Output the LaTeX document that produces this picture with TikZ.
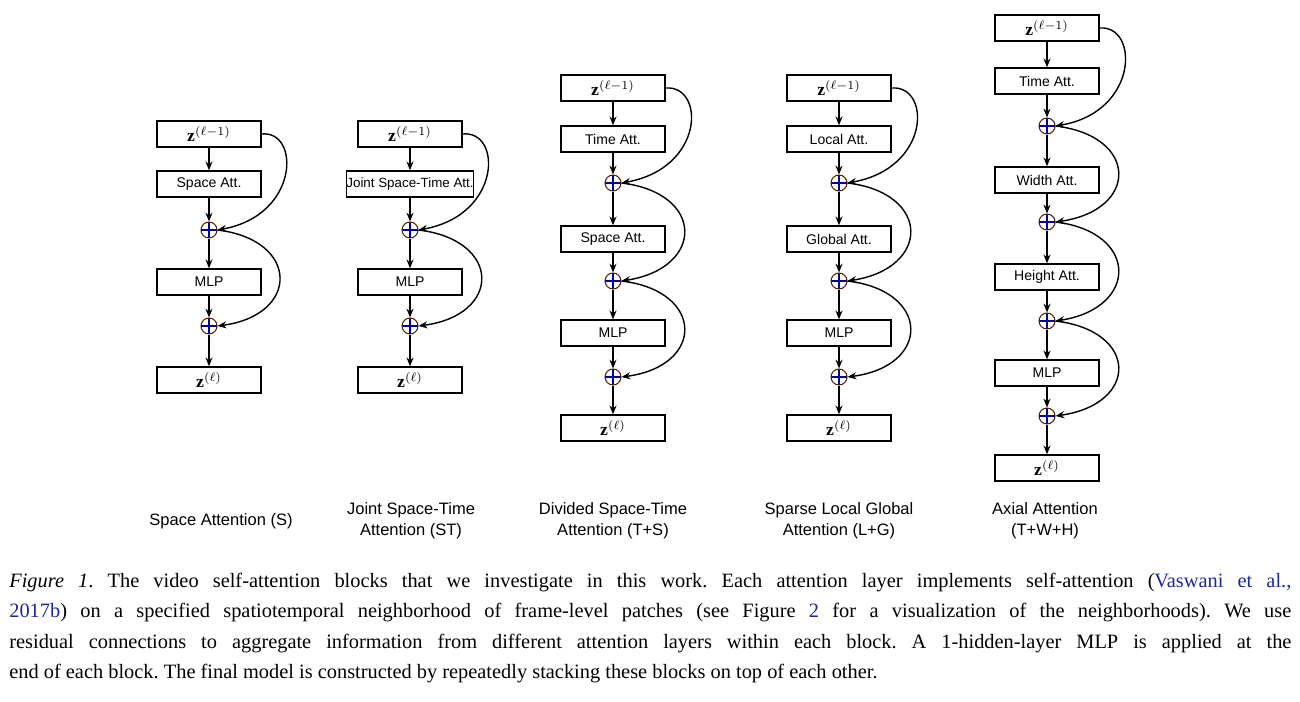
\documentclass[tikz,border=0pt]{standalone}
\usepackage{fontspec}
\setmainfont{Liberation Serif}
\setsansfont{Liberation Sans}
\usetikzlibrary{arrows.meta}
\definecolor{citeblue}{RGB}{30,40,150}
\begin{document}
\frenchspacing
\begin{tikzpicture}[x=0.02cm,y=-0.02cm,
  blk/.style={draw,thick,minimum width=104*0.02cm,minimum height=26*0.02cm,inner sep=0pt,font=\sffamily\fontsize{8}{9}\selectfont},
  pl/.style={circle,draw=black!70!orange,semithick,minimum size=16*0.02cm,inner sep=0pt,
     path picture={\draw[blue!60!black,semithick] (path picture bounding box.north)--(path picture bounding box.south) (path picture bounding box.west)--(path picture bounding box.east);}},
  ar/.style={-{Stealth[length=5pt,width=4pt]},thick},
  lab/.style={font=\sffamily\fontsize{9.4}{11.8}\selectfont,align=center}]
\useasboundingbox (0,0) rectangle (1300,702);
\newcommand{\zin}{\fontsize{10}{11}\selectfont$\mathbf{z}^{(\ell-1)}$}
\newcommand{\zout}{\fontsize{10}{11}\selectfont$\mathbf{z}^{(\ell)}$}
% col1
\node[blk] (a0) at (209,134) {\zin};
\node[blk] (a1) at (209,184) {Space Att.};
\node[pl] (ap1) at (209,230) {};
\node[blk] (a2) at (209,282) {MLP};
\node[pl] (ap2) at (209,326) {};
\node[blk] (a3) at (209,380) {\zout};
\draw[ar] (a0)--(a1); \draw[ar] (a1)--(ap1); \draw[ar] (ap1)--(a2); \draw[ar] (a2)--(ap2); \draw[ar] (ap2)--(a3);
\draw[ar] (a0.east) .. controls (300,130) and (300,215) .. (ap1.east);
\draw[ar] (ap1.east) .. controls (300,240) and (300,315) .. (ap2.east);
% col2
\node[blk] (b0) at (410,134) {\zin};
\node[blk,font=\sffamily\fontsize{7.6}{9}\selectfont] (b1) at (410,184) {Joint Space-Time Att.};
\node[pl] (bp1) at (410,230) {};
\node[blk] (b2) at (410,282) {MLP};
\node[pl] (bp2) at (410,326) {};
\node[blk] (b3) at (410,380) {\zout};
\draw[ar] (b0)--(b1); \draw[ar] (b1)--(bp1); \draw[ar] (bp1)--(b2); \draw[ar] (b2)--(bp2); \draw[ar] (bp2)--(b3);
\draw[ar] (b0.east) .. controls (502,130) and (502,215) .. (bp1.east);
\draw[ar] (bp1.east) .. controls (502,240) and (502,315) .. (bp2.east);
% col3 and col4
\foreach \cx/\n/\ta/\tb in {613/c/Time Att./Space Att., 839/d/Local Att./Global Att.}{
\node[blk] (\n0) at (\cx,88) {\zin};
\node[blk] (\n1) at (\cx,139) {\ta};
\node[pl] (\n p1) at (\cx,183) {};
\node[blk] (\n2) at (\cx,239) {\tb};
\node[pl] (\n p2) at (\cx,281) {};
\node[blk] (\n3) at (\cx,333) {MLP};
\node[pl] (\n p3) at (\cx,377) {};
\node[blk] (\n4) at (\cx,428) {\zout};
\draw[ar] (\n0)--(\n1); \draw[ar] (\n1)--(\n p1); \draw[ar] (\n p1)--(\n2); \draw[ar] (\n2)--(\n p2);
\draw[ar] (\n p2)--(\n3); \draw[ar] (\n3)--(\n p3); \draw[ar] (\n p3)--(\n4);
\draw[ar] (\n0.east) .. controls (\cx+92,85) and (\cx+92,168) .. (\n p1.east);
\draw[ar] (\n p1.east) .. controls (\cx+92,193) and (\cx+92,268) .. (\n p2.east);
\draw[ar] (\n p2.east) .. controls (\cx+92,291) and (\cx+92,366) .. (\n p3.east);
}
% col5
\node[blk] (e0) at (1047,28) {\zin};
\node[blk] (e1) at (1047,81) {Time Att.};
\node[pl] (ep1) at (1047,126) {};
\node[blk] (e2) at (1047,180) {Width Att.};
\node[pl] (ep2) at (1047,222) {};
\node[blk] (e3) at (1047,277) {Height Att.};
\node[pl] (ep3) at (1047,321) {};
\node[blk] (e4) at (1047,373) {MLP};
\node[pl] (ep4) at (1047,416) {};
\node[blk] (e5) at (1047,468) {\zout};
\draw[ar] (e0)--(e1); \draw[ar] (e1)--(ep1); \draw[ar] (ep1)--(e2); \draw[ar] (e2)--(ep2); \draw[ar] (ep2)--(e3);
\draw[ar] (e3)--(ep3); \draw[ar] (ep3)--(e4); \draw[ar] (e4)--(ep4); \draw[ar] (ep4)--(e5);
\draw[ar] (e0.east) .. controls (1139,25) and (1139,112) .. (ep1.east);
\draw[ar] (ep1.east) .. controls (1139,136) and (1139,210) .. (ep2.east);
\draw[ar] (ep2.east) .. controls (1139,232) and (1139,308) .. (ep3.east);
\draw[ar] (ep3.east) .. controls (1139,331) and (1139,404) .. (ep4.east);
% labels
\node[lab] (l1) at (221,521) {Space Attention (S)};
\node[lab] (l2) at (411,521) {Joint Space-Time\\Attention (ST)};
\node[lab] (l3) at (613,521) {Divided Space-Time\\Attention (T+S)};
\node[lab] (l4) at (839,521) {Sparse Local Global\\Attention (L+G)};
\node[lab] (l5) at (1045,521) {Axial Attention\\(T+W+H)};
% caption
\node[anchor=north west,inner sep=0pt,text width=1282*0.02cm,align=justify,font=\fontsize{11.6}{17.2}\selectfont] (cap) at (9,573)
{\textit{Figure 1}. The video self-attention blocks that we investigate in this work. Each attention layer implements self-attention ({\color{citeblue}Vaswani et~al.,}\linebreak {\color{citeblue}2017b}) on a specified spatiotemporal neighborhood of frame-level patches (see Figure~{\color{citeblue}2} for a visualization of the neighborhoods). We use\linebreak residual connections to aggregate information from different attention layers within each block. A 1-hidden-layer MLP is applied at the\linebreak end of each block. The final model is constructed by repeatedly stacking these blocks on top of each other.};
\end{tikzpicture}
\end{document}
